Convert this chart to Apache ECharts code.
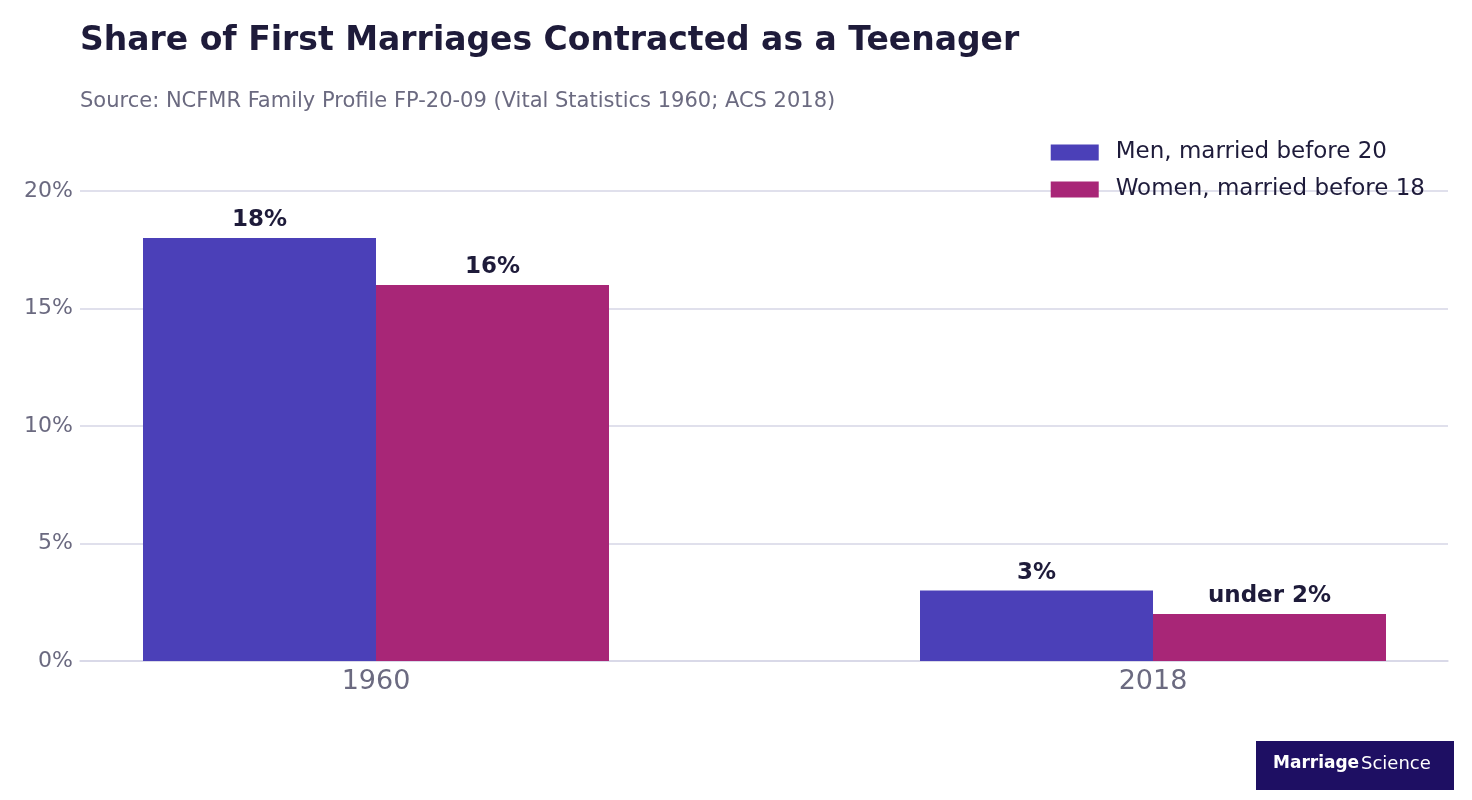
<!DOCTYPE html>
<html><head><meta charset="utf-8">
<script src="https://cdn.jsdelivr.net/npm/echarts@6/dist/echarts.min.js"></script>
<style>body{margin:0}#c{width:1472px;height:800px}</style></head>
<body><div id="c"></div>
<script>
var categories = ['1960', '2018'];
var men = [18, 3];
var women = [16, 2];
var menLabels = ['18%', '3%'];
var womenLabels = ['16%', 'under 2%'];

var dark = '#1e1b3a', grey = '#6b6a80';
var font = '"DejaVu Sans"';

var chart = echarts.init(document.getElementById('c'));
chart.setOption({
  textStyle: {fontFamily: font},
  title: [{
    text: 'Share of First Marriages Contracted as a Teenager',
    left: 80, top: 25, padding: 0,
    textStyle: {fontSize: 33, fontWeight: 'bold', color: dark, fontFamily: font}
  }, {
    text: 'Source: NCFMR Family Profile FP-20-09 (Vital Statistics 1960; ACS 2018)',
    left: 80, top: 91, padding: 0,
    textStyle: {fontSize: 21, fontWeight: 'normal', color: grey, fontFamily: font}
  }],
  legend: {
    right: 42, top: 136, orient: 'vertical', itemWidth: 48, itemHeight: 16, itemGap: 14,
    icon: 'rect', textStyle: {fontSize: 23, color: dark, fontFamily: font, padding: [0, 0, 0, 12]}
  },
  grid: [
    {left: 80, right: 24, top: 191, bottom: 139},
    {left: 0, right: 0, top: 191, bottom: 139}
  ],
  xAxis: [
    {gridIndex: 0, type: 'category', data: ['', ''], axisTick: {show: false},
     axisLabel: {show: false}, axisLine: {lineStyle: {color: '#d6d6e6', width: 1.5}}},
    {gridIndex: 1, type: 'value', min: -376 / 777, max: 1 + 319 / 777,
     splitLine: {show: false}, axisTick: {show: false}, axisLine: {show: false},
     axisLabel: {customValues: [0, 1], fontSize: 27, color: grey, margin: 7, fontFamily: font,
       formatter: function (v) { return categories[Math.round(v)]; }}}
  ],
  yAxis: [
    {gridIndex: 0, type: 'value', min: 0, max: 20, interval: 5,
     axisLabel: {formatter: '{value}%', fontSize: 22, color: grey, margin: 7, fontFamily: font},
     splitLine: {lineStyle: {color: '#d6d6e6', width: 1.5}}},
    {gridIndex: 1, type: 'value', min: 0, max: 20, interval: 5, show: false}
  ],
  series: [{
    name: 'Men, married before 20', type: 'bar', xAxisIndex: 1, yAxisIndex: 1,
    data: men.map(function (v, i) { return [i, v]; }), barWidth: 233, barGap: '0%',
    itemStyle: {color: '#4b40b8'},
    label: {show: true, position: 'top', distance: 6, fontSize: 23, fontWeight: 'bold', color: dark, fontFamily: font,
      formatter: function (p) { return menLabels[p.dataIndex]; }}
  }, {
    name: 'Women, married before 18', type: 'bar', xAxisIndex: 1, yAxisIndex: 1,
    data: women.map(function (v, i) { return [i, v]; }), barWidth: 233,
    itemStyle: {color: '#a82677'},
    label: {show: true, position: 'top', distance: 6, fontSize: 23, fontWeight: 'bold', color: dark, fontFamily: font,
      formatter: function (p) { return womenLabels[p.dataIndex]; }}
  }],
  graphic: [
    {type: 'rect', left: 1256, top: 741, shape: {width: 198, height: 49}, style: {fill: '#1e0f63'}},
    {type: 'text', left: 1273, top: 755, style: {text: 'Marriage', fill: '#fff', font: 'bold 17px "DejaVu Sans"'}},
    {type: 'text', left: 1361, top: 755, style: {text: 'Science', fill: '#fff', font: '18px "DejaVu Sans"'}}
  ]
});
</script></body></html>
